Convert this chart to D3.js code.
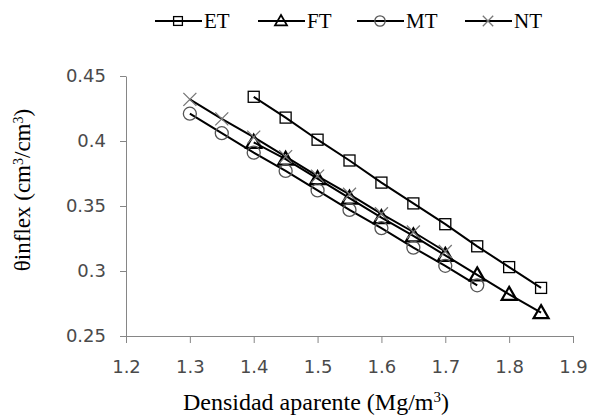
<!DOCTYPE html>
<html>
<head>
<meta charset="utf-8">
<script src="https://cdn.jsdelivr.net/npm/d3@7"></script>
<style>
  body { margin: 0; background: #fff; }
  .tick text { font-family: "DejaVu Sans", sans-serif; font-size: 18px; fill: #4a4a4a; }
  .axis path, .axis line { stroke: #868686; }
  .title { font-family: "Liberation Serif", serif; fill: #000; }
  .legend text { font-family: "Liberation Serif", serif; font-size: 21px; fill: #000; }
</style>
</head>
<body>
<div id="chart"></div>
<script>
// Densidad aparente values per series
var xET = [1.4, 1.45, 1.5, 1.55, 1.6, 1.65, 1.7, 1.75, 1.8, 1.85];
var yET = [0.434, 0.418, 0.401, 0.385, 0.368, 0.352, 0.336, 0.319, 0.303, 0.287];
var xFT = [1.4, 1.45, 1.5, 1.55, 1.6, 1.65, 1.7, 1.75, 1.8, 1.85];
var yFT = [0.399, 0.386, 0.371, 0.356, 0.341, 0.327, 0.312, 0.297, 0.282, 0.268];
var xMT = [1.3, 1.35, 1.4, 1.45, 1.5, 1.55, 1.6, 1.65, 1.7, 1.75];
var yMT = [0.421, 0.406, 0.391, 0.377, 0.362, 0.347, 0.333, 0.318, 0.304, 0.289];
var xNT = [1.3, 1.35, 1.4, 1.45, 1.5, 1.55, 1.6, 1.65, 1.7];
var yNT = [0.432, 0.417, 0.403, 0.388, 0.373, 0.359, 0.344, 0.330, 0.315];
var xTicks = [1.2, 1.3, 1.4, 1.5, 1.6, 1.7, 1.8, 1.9];
var yTicks = [0.25, 0.3, 0.35, 0.4, 0.45];

var series = [
    { name: "ET", x: xET, y: yET, marker: "square" },
    { name: "FT", x: xFT, y: yFT, marker: "triangle" },
    { name: "MT", x: xMT, y: yMT, marker: "circle" },
    { name: "NT", x: xNT, y: yNT, marker: "cross" }
];

var width = 590, height = 419;
var margin = { top: 76, right: 17, bottom: 83, left: 126 };

var svg = d3.select("#chart").append("svg")
    .attr("width", width)
    .attr("height", height);

var xScale = d3.scaleLinear()
    .domain([1.2, 1.9])
    .range([margin.left, width - margin.right]);

var yScale = d3.scaleLinear()
    .domain([0.25, 0.45])
    .range([height - margin.bottom, margin.top]);

// axes
svg.append("g")
    .attr("class", "axis")
    .attr("transform", "translate(0," + (height - margin.bottom) + ")")
    .call(d3.axisBottom(xScale).tickValues(xTicks).tickSize(7).tickSizeOuter(0)
        .tickFormat(d3.format(".1f")))
    .call(g => g.selectAll(".tick text").attr("y", 37).attr("dy", 0));

svg.append("g")
    .attr("class", "axis")
    .attr("transform", "translate(" + margin.left + ",0)")
    .call(d3.axisLeft(yScale).tickValues(yTicks).tickSize(6).tickSizeOuter(0)
        .tickFormat(d => String(+d.toFixed(2))))
    .call(g => g.selectAll(".tick text").attr("x", -20));

// markers
function drawMarker(g, type, cx, cy, k) {
    k = k || 1;
    if (type === "square") {
        g.append("rect")
            .attr("x", cx - 5.5 * k).attr("y", cy - 5.5 * k)
            .attr("width", 11 * k).attr("height", 11 * k)
            .attr("fill", "none").attr("stroke", "#000").attr("stroke-width", 1.3);
    } else if (type === "triangle") {
        g.append("path")
            .attr("d", "M" + cx + "," + (cy - 7.5 * k) + "L" + (cx + 7.5 * k) + "," + (cy + 5.5 * k) +
                "L" + (cx - 7.5 * k) + "," + (cy + 5.5 * k) + "Z")
            .attr("fill", "none").attr("stroke", "#000").attr("stroke-width", 2.2 * k);
    } else if (type === "circle") {
        g.append("circle")
            .attr("cx", cx).attr("cy", cy).attr("r", 6.5 * k)
            .attr("fill", "none").attr("stroke", "#555").attr("stroke-width", 1.3);
    } else if (type === "cross") {
        var r = 6.5 * k;
        g.append("path")
            .attr("d", "M" + (cx - r) + "," + (cy - r) + "L" + (cx + r) + "," + (cy + r) +
                "M" + (cx + r) + "," + (cy - r) + "L" + (cx - r) + "," + (cy + r))
            .attr("stroke", "#777").attr("stroke-width", 1.3);
    }
}

var line = d3.line()
    .x(d => xScale(d[0]))
    .y(d => yScale(d[1]));

series.forEach(function (s) {
    var pts = s.x.map((v, i) => [v, s.y[i]]);
    var g = svg.append("g").attr("class", "series");
    g.append("path")
        .datum(pts)
        .attr("d", line)
        .attr("fill", "none")
        .attr("stroke", "#000")
        .attr("stroke-width", 2);
    pts.forEach(p => drawMarker(g, s.marker, xScale(p[0]), yScale(p[1])));
});

// legend
var legendX = [155, 258, 357, 465];
var legend = svg.append("g").attr("class", "legend");
series.forEach(function (s, i) {
    var lg = legend.append("g");
    lg.append("line")
        .attr("x1", legendX[i]).attr("x2", legendX[i] + 47)
        .attr("y1", 21).attr("y2", 21)
        .attr("stroke", "#000").attr("stroke-width", 2);
    drawMarker(lg, s.marker, legendX[i] + 23, 21, 0.8);
    lg.append("text")
        .attr("x", legendX[i] + 49)
        .attr("y", 28)
        .text(s.name);
});

// titles
svg.append("text")
    .attr("class", "title")
    .attr("x", 316)
    .attr("y", 410)
    .attr("text-anchor", "middle")
    .style("font-size", "24px")
    .html("Densidad aparente (Mg/m<tspan baseline-shift='super' font-size='15px'>3</tspan>)");

svg.append("text")
    .attr("class", "title")
    .attr("transform", "translate(30,190) rotate(-90)")
    .attr("text-anchor", "middle")
    .style("font-size", "23px")
    .html("θinflex (cm<tspan baseline-shift='super' font-size='14px'>3</tspan>/cm<tspan baseline-shift='super' font-size='14px'>3</tspan>)");
</script>
</body>
</html>
